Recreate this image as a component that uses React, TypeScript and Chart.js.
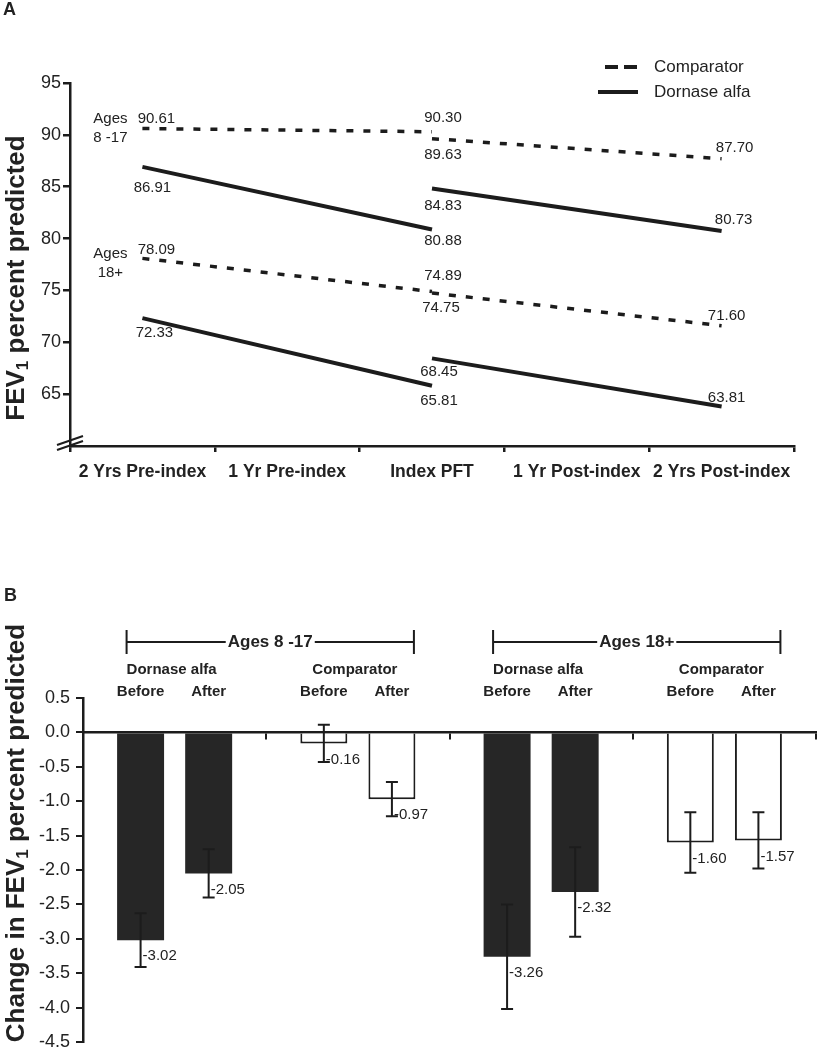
import React, { useEffect, useRef } from 'react';
import { Chart, registerables } from 'chart.js';

Chart.register(...registerables);

const FONT = '"Liberation Sans", Arial, Helvetica, sans-serif';
const INK = '#1c1c1c';
const TEXT = '#222222';
const BAR_DARK = '#262626';

// ---------- Panel A data ----------
const timepoints = ['2 Yrs Pre-index', '1 Yr Pre-index', 'Index PFT', '1 Yr Post-index', '2 Yrs Post-index'];
const comparator8to17Pre = [90.61, null, 90.3, null, null];
const comparator8to17Post = [null, null, 89.63, null, 87.7];
const dornase8to17Pre = [86.91, null, 80.88, null, null];
const dornase8to17Post = [null, null, 84.83, null, 80.73];
const comparator18Pre = [78.09, null, 74.89, null, null];
const comparator18Post = [null, null, 74.75, null, 71.6];
const dornase18Pre = [72.33, null, 65.81, null, null];
const dornase18Post = [null, null, 68.45, null, 63.81];
const legendLabelsA = ['Comparator', 'Dornase alfa'];

// ---------- Panel B data ----------
const groupsB = ['Dornase alfa 8-17', 'Comparator 8-17', 'Dornase alfa 18+', 'Comparator 18+'];
const treatmentLabels = ['Dornase alfa', 'Comparator', 'Dornase alfa', 'Comparator'];
const ageGroupLabels = ['Ages 8 -17', 'Ages 18+'];
const periodLabels = ['Before', 'After'];
const beforeChange = [-3.02, -0.16, -3.26, -1.6];
const afterChange = [-2.05, -0.97, -2.32, -1.57];
const beforeError = [0.39, 0.27, 0.76, 0.44];
const afterError = [0.35, 0.25, 0.65, 0.41];

// label offsets (style only) for panel A: [start [dx,dy], end [dx,dy]]
const labelOffsetsA = [
  [[14, -10], [11, -14]],
  [[11, 16], [13, -11]],
  [[10, 21], [11, 11]],
  [[11, 17], [12, -11]],
  [[14, -9], [11, -16]],
  [[9, 15], [5, -10]],
  [[12, 15], [7, 15]],
  [[7, 13], [5, -9]],
];

Chart.defaults.font.family = FONT;
Chart.defaults.color = TEXT;

function drawRotTitle(ctx: CanvasRenderingContext2D, baseX: number, cy: number, parts: { text: string; size: number; shift: number }[]) {
  ctx.save();
  ctx.translate(baseX, cy);
  ctx.rotate(-Math.PI / 2);
  ctx.fillStyle = TEXT;
  ctx.textAlign = 'left';
  ctx.textBaseline = 'alphabetic';
  const widths = parts.map((p) => {
    ctx.font = `bold ${p.size}px ${FONT}`;
    return ctx.measureText(p.text).width;
  });
  const total = widths.reduce((a, b) => a + b, 0);
  let x = -total / 2;
  parts.forEach((p, i) => {
    ctx.font = `bold ${p.size}px ${FONT}`;
    ctx.fillText(p.text, x, p.shift);
    x += widths[i];
  });
  ctx.restore();
}

const panelAPlugin = {
  id: 'panelA',
  afterDraw(chart: any) {
    const ctx: CanvasRenderingContext2D = chart.ctx;
    ctx.save();
    ctx.fillStyle = TEXT;
    ctx.font = `bold 18px ${FONT}`;
    ctx.textAlign = 'left';
    ctx.textBaseline = 'middle';
    ctx.fillText('A', 3, 10);

    drawRotTitle(ctx, 24, 278, [
      { text: 'FEV', size: 26, shift: 0 },
      { text: '1', size: 17, shift: 4 },
      { text: ' percent predicted', size: 26, shift: 0 },
    ]);

    // legend
    ctx.strokeStyle = INK;
    ctx.lineWidth = 4;
    ctx.setLineDash([13, 6]);
    ctx.beginPath();
    ctx.moveTo(605, 67);
    ctx.lineTo(638, 67);
    ctx.stroke();
    ctx.setLineDash([]);
    ctx.beginPath();
    ctx.moveTo(598, 92);
    ctx.lineTo(638, 92);
    ctx.stroke();
    ctx.font = `17px ${FONT}`;
    ctx.fillStyle = TEXT;
    ctx.textAlign = 'left';
    ctx.textBaseline = 'middle';
    ctx.fillText(legendLabelsA[0], 654, 67);
    ctx.fillText(legendLabelsA[1], 654, 92);

    // axis break marks
    const area = chart.chartArea;
    ctx.lineWidth = 2;
    ctx.strokeStyle = INK;
    ctx.beginPath();
    ctx.moveTo(area.left - 13, area.bottom - 1);
    ctx.lineTo(area.left + 13, area.bottom - 10);
    ctx.moveTo(area.left - 13, area.bottom + 4);
    ctx.lineTo(area.left + 13, area.bottom - 5);
    ctx.stroke();

    // value labels
    ctx.font = `15px ${FONT}`;
    ctx.textAlign = 'center';
    ctx.textBaseline = 'middle';
    ctx.fillStyle = TEXT;
    chart.data.datasets.forEach((ds: any, di: number) => {
      const meta = chart.getDatasetMeta(di);
      const idx = ds.data.map((v: any, i: number) => (v == null ? -1 : i)).filter((i: number) => i >= 0);
      const ends = [idx[0], idx[idx.length - 1]];
      ends.forEach((pi: number, k: number) => {
        const pt = meta.data[pi];
        const [dx, dy] = labelOffsetsA[di][k];
        ctx.fillText(Number(ds.data[pi]).toFixed(2), pt.x + dx, pt.y + dy);
      });
    });

    // age group labels
    const p1 = chart.getDatasetMeta(0).data[0];
    ctx.fillText('Ages', p1.x - 32, p1.y - 10);
    ctx.fillText('8 -17', p1.x - 32, p1.y + 9);
    const p2 = chart.getDatasetMeta(4).data[0];
    ctx.fillText('Ages', p2.x - 32, p2.y - 5);
    ctx.fillText('18+', p2.x - 32, p2.y + 14);
    ctx.restore();
  },
};

const panelBPlugin = {
  id: 'panelB',
  afterDatasetsDraw(chart: any) {
    const ctx: CanvasRenderingContext2D = chart.ctx;
    const ys = chart.scales.y;
    ctx.save();
    const sets = [
      { vals: beforeChange, errs: beforeError },
      { vals: afterChange, errs: afterError },
    ];
    sets.forEach((s, di) => {
      const meta = chart.getDatasetMeta(di);
      s.vals.forEach((v, i) => {
        const bar = meta.data[i];
        const x = bar.x;
        const yt = ys.getPixelForValue(v + s.errs[i]);
        const yb = ys.getPixelForValue(v - s.errs[i]);
        ctx.strokeStyle = INK;
        ctx.lineWidth = 2;
        ctx.beginPath();
        ctx.moveTo(x, yt);
        ctx.lineTo(x, yb);
        ctx.moveTo(x - 6, yt);
        ctx.lineTo(x + 6, yt);
        ctx.moveTo(x - 6, yb);
        ctx.lineTo(x + 6, yb);
        ctx.stroke();
        ctx.fillStyle = TEXT;
        ctx.font = `15px ${FONT}`;
        ctx.textAlign = 'left';
        ctx.textBaseline = 'middle';
        ctx.fillText(v.toFixed(2), x + 2, ys.getPixelForValue(v) + 16);
      });
    });
    ctx.restore();
  },
  afterDraw(chart: any) {
    const ctx: CanvasRenderingContext2D = chart.ctx;
    const xs = chart.scales.x;
    ctx.save();
    ctx.fillStyle = TEXT;
    ctx.font = `bold 18px ${FONT}`;
    ctx.textAlign = 'left';
    ctx.textBaseline = 'middle';
    ctx.fillText('B', 4, 36);

    drawRotTitle(ctx, 24, 273, [
      { text: 'Change in FEV', size: 26, shift: 0 },
      { text: '1', size: 17, shift: 4 },
      { text: ' percent predicted', size: 26, shift: 0 },
    ]);

    const mb = chart.getDatasetMeta(0);
    const ma = chart.getDatasetMeta(1);
    // age brackets
    ageGroupLabels.forEach((lab, g) => {
      const left = mb.data[2 * g].x - 14;
      const right = ma.data[2 * g + 1].x + 22;
      const cx = (left + right) / 2;
      const y = 82;
      ctx.font = `bold 17px ${FONT}`;
      const w = ctx.measureText(lab).width;
      ctx.strokeStyle = INK;
      ctx.lineWidth = 2;
      ctx.beginPath();
      ctx.moveTo(left, y);
      ctx.lineTo(cx - w / 2 - 2, y);
      ctx.moveTo(cx + w / 2 + 2, y);
      ctx.lineTo(right, y);
      ctx.moveTo(left, 70);
      ctx.lineTo(left, 94);
      ctx.moveTo(right, 70);
      ctx.lineTo(right, 94);
      ctx.stroke();
      ctx.fillStyle = TEXT;
      ctx.textAlign = 'center';
      ctx.textBaseline = 'middle';
      ctx.fillText(lab, cx, y);
    });
    // treatment and period labels
    ctx.font = `bold 15px ${FONT}`;
    ctx.textAlign = 'center';
    ctx.textBaseline = 'middle';
    treatmentLabels.forEach((lab, i) => {
      ctx.fillText(lab, xs.getPixelForValue(i) - 3, 110);
      ctx.fillText(periodLabels[0], mb.data[i].x, 132);
      ctx.fillText(periodLabels[1], ma.data[i].x, 132);
    });
    ctx.restore();
  },
};

const isDornase = treatmentLabels.map((t) => t === 'Dornase alfa');
const fillsB = isDornase.map((d) => (d ? BAR_DARK : '#ffffff'));
const bordersB = isDornase.map((d) => (d ? 0 : 2));

function lineDataset(data: (number | null)[], dashed: boolean) {
  return {
    data,
    borderColor: INK,
    borderWidth: dashed ? 3.5 : 4,
    borderDash: dashed ? [7, 10] : [],
    borderCapStyle: 'butt',
    spanGaps: true,
    pointRadius: 0,
    pointHoverRadius: 0,
    tension: 0,
    fill: false,
  };
}

export default function App() {
  const refA = useRef<HTMLCanvasElement>(null);
  const refB = useRef<HTMLCanvasElement>(null);

  useEffect(() => {
    const chartA = new Chart(refA.current as HTMLCanvasElement, {
      type: 'line',
      data: {
        labels: timepoints,
        datasets: [
          lineDataset(comparator8to17Pre, true),
          lineDataset(comparator8to17Post, true),
          lineDataset(dornase8to17Pre, false),
          lineDataset(dornase8to17Post, false),
          lineDataset(comparator18Pre, true),
          lineDataset(comparator18Post, true),
          lineDataset(dornase18Pre, false),
          lineDataset(dornase18Post, false),
        ] as any,
      },
      options: {
        responsive: false,
        animation: false,
        layout: { padding: { top: 83, right: 26, bottom: 74, left: 0 } },
        plugins: { legend: { display: false }, tooltip: { enabled: false } },
        scales: {
          x: {
            type: 'category',
            offset: true,
            grid: { offset: true, drawOnChartArea: false, drawTicks: true, tickLength: 6, color: INK, lineWidth: 2.5 },
            border: { display: true, color: INK, width: 2.5 },
            ticks: { font: { size: 17.5, weight: 'bold' }, color: TEXT, padding: 10, maxRotation: 0, autoSkip: false },
            afterFit: (s: any) => {
              s.height = 40;
            },
          },
          y: {
            min: 60,
            max: 95,
            ticks: { stepSize: 5, font: { size: 18 }, color: TEXT, padding: 2 },
            grid: { drawOnChartArea: false, drawTicks: true, tickLength: 7, color: INK, lineWidth: 2.5 },
            border: { display: true, color: INK, width: 2.5 },
            afterBuildTicks: (s: any) => {
              s.ticks = s.ticks.filter((t: any) => t.value >= 65);
            },
            afterFit: (s: any) => {
              s.width = 70;
            },
          },
        },
      } as any,
      plugins: [panelAPlugin],
    });

    const chartB = new Chart(refB.current as HTMLCanvasElement, {
      type: 'bar',
      data: {
        labels: groupsB,
        datasets: [
          {
            label: periodLabels[0],
            data: beforeChange,
            backgroundColor: fillsB,
            borderColor: INK,
            borderWidth: bordersB,
            borderSkipped: 'start',
            categoryPercentage: 0.743,
            barPercentage: 0.69,
          },
          {
            label: periodLabels[1],
            data: afterChange,
            backgroundColor: fillsB,
            borderColor: INK,
            borderWidth: bordersB,
            borderSkipped: 'start',
            categoryPercentage: 0.743,
            barPercentage: 0.69,
          },
        ] as any,
      },
      options: {
        responsive: false,
        animation: false,
        layout: { padding: { top: 138, right: 4, bottom: 18, left: 0 } },
        plugins: { legend: { display: false }, tooltip: { enabled: false } },
        scales: {
          x: {
            type: 'category',
            position: { y: 0 },
            offset: true,
            z: 1,
            grid: { offset: true, drawOnChartArea: false, drawTicks: true, tickLength: 6, color: INK, lineWidth: 2 },
            border: { display: true, color: INK, width: 2.5 },
            ticks: { display: false },
          },
          y: {
            min: -4.5,
            max: 0.5,
            ticks: {
              stepSize: 0.5,
              font: { size: 18 },
              color: TEXT,
              padding: 6,
              callback: (v: any) => Number(v).toFixed(1),
            },
            grid: { drawOnChartArea: false, drawTicks: true, tickLength: 7, color: INK, lineWidth: 2 },
            border: { display: true, color: INK, width: 2.5 },
            afterFit: (s: any) => {
              s.width = 83;
            },
          },
        },
      } as any,
      plugins: [panelBPlugin],
    });

    return () => {
      chartA.destroy();
      chartB.destroy();
    };
  }, []);

  return (
    <div style={{ position: 'absolute', left: 0, top: 0, width: 820, height: 1050, overflow: 'hidden', background: '#ffffff' }}>
      <canvas ref={refA} width={820} height={560} style={{ position: 'absolute', left: 0, top: 0, display: 'block' }} />
      <canvas ref={refB} width={820} height={500} style={{ position: 'absolute', left: 0, top: 560, display: 'block' }} />
    </div>
  );
}
